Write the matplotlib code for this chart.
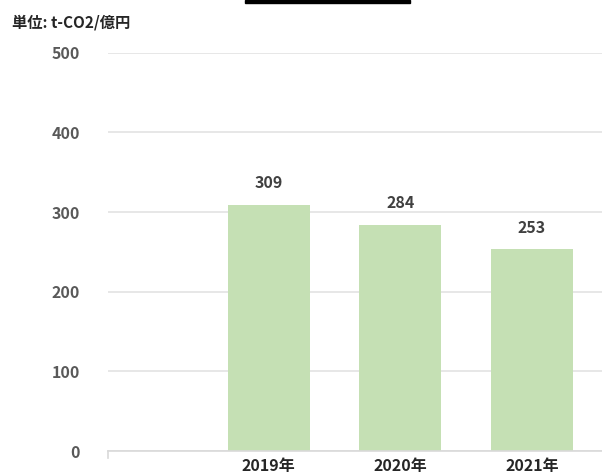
import numpy as np
import matplotlib.pyplot as plt
from matplotlib.patches import Rectangle

plt.rcParams['font.family'] = ['Noto Sans CJK JP', 'DejaVu Sans']

# datos del grafico
anios = ["2019年", "2020年", "2021年"]
valores = [309, 284, 253]
yticks = [0, 100, 200, 300, 400, 500]

fig = plt.figure(figsize=(6.02, 4.73), dpi=100)
ax = fig.add_axes([107.7 / 602, 22 / 473, 1 - 107.7 / 602, 398.3 / 473])

pos = np.arange(1, len(anios) + 1)
barras = ax.bar(pos, valores, width=0.623, color="#C5E0B4", zorder=2)
ax.bar_label(barras, labels=[str(v) for v in valores], padding=10,
             fontsize=11.5, fontweight="bold", color="#404040")

ax.set_xlim(-0.224, 3.532)
ax.set_ylim(0, 500)
ax.set_yticks(yticks)
ax.set_yticklabels([str(t) for t in yticks], fontsize=11.5, fontweight="bold", color="#595959")
ax.set_xticks(pos)
ax.set_xticklabels(anios, fontsize=11.5, fontweight="bold", color="#262626")
ax.tick_params(axis="y", length=0, pad=20)
ax.tick_params(axis="x", length=0, pad=5)
ax.grid(axis="y", color="#E3E3E3", linewidth=1.2, zorder=0)

for s in ["top", "right", "left"]:
    ax.spines[s].set_visible(False)
ax.spines["bottom"].set_color("#D9D9D9")
ax.spines["bottom"].set_linewidth(1.2)
# pequeña marca al inicio del eje
ax.plot([-0.224, -0.224], [0, -9], color="#D9D9D9", lw=1.2, clip_on=False)

fig.text(12 / 602, 1 - 22 / 473, "単位: t-CO2/億円", fontsize=11, fontweight="bold",
         color="#262626", va="center", ha="left")

# barra negra arriba
fig.add_artist(Rectangle((245 / 602, 1 - 3 / 473), 165 / 602, 3 / 473,
                         transform=fig.transFigure, color="black"))

fig.savefig("out.png", dpi=100)
